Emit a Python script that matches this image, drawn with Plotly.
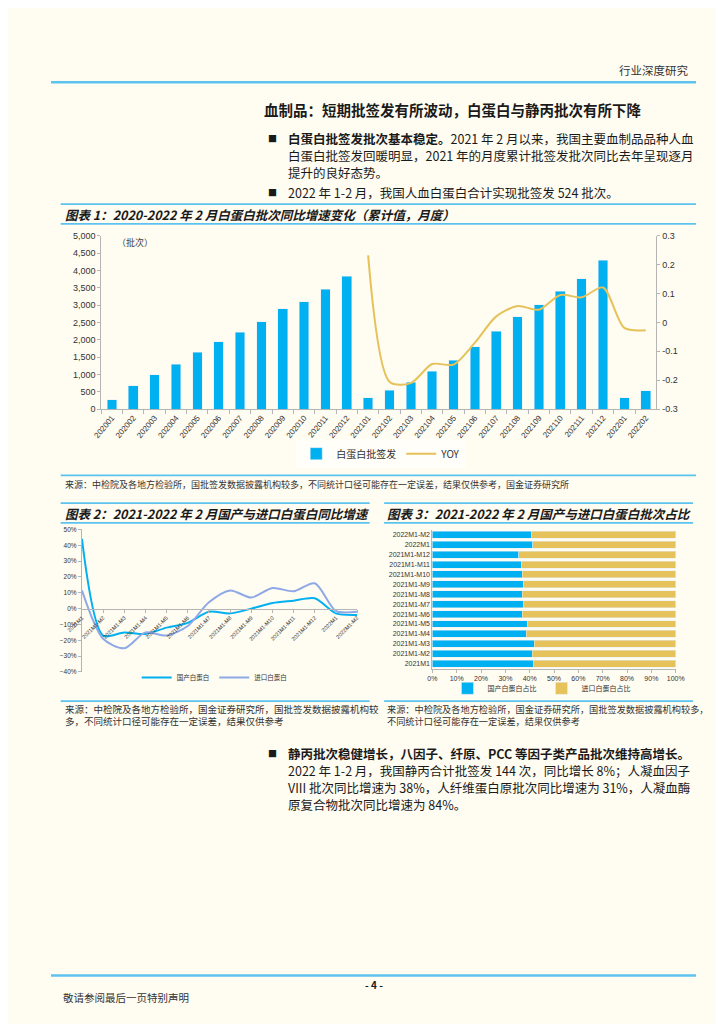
import plotly.graph_objects as go

W, H = 724, 1024
def px(x): return x / W
def py(y): return 1 - y / H

# ---------------- data ----------------
months1 = ['202001', '202002', '202003', '202004', '202005', '202006', '202007', '202008',
           '202009', '202010', '202011', '202012', '202101', '202102', '202103', '202104',
           '202105', '202106', '202107', '202108', '202109', '202110', '202111', '202112',
           '202201', '202202']
batches = [275, 674, 987, 1300, 1641, 1945, 2211, 2524, 2894, 3102, 3454, 3833,
           332, 550, 778, 1091, 1404, 1793, 2249, 2666, 3017, 3406, 3767, 4288, 332, 524]
yoy_months = ['202101', '202102', '202103', '202104', '202105', '202106', '202107',
              '202108', '202109', '202110', '202111', '202112', '202201', '202202']
yoy = [0.232, -0.205, -0.21, -0.144, -0.146, -0.07, 0.021, 0.057, 0.044, 0.095, 0.087,
       0.121, -0.019, -0.027]
y2_tickvals = [-0.3, -0.2, -0.1, 0, 0.1, 0.2, 0.3]
y2_ticktext = ['-0.3', '-0.2', '-0.1', '0', '0.1', '0.2', '0.3']

cats2 = ['2021M1', '2021M1-M2', '2021M1-M3', '2021M1-M4', '2021M1-M5', '2021M1-M6',
         '2021M1-M7', '2021M1-M8', '2021M1-M9', '2021M1-M10', '2021M1-M11', '2021M1-M12',
         '2022M1', '2022M1-M2']
dom_yoy = [44, -17, -15, -16, -12, -9, -2, -3, 0, 3.5, 5, 6.5, -3, -4]
imp_yoy = [11.5, -19, -25, -15, -17, -11, 4, 11.5, 7, 13, 11, 16, -1.5, -2]

dom_share = [41.7, 41.1, 41.9, 38.6, 39.0, 37.0, 37.6, 36.9, 37.4, 37.0, 36.6, 35.5, 41.3, 40.6]
imp_share = [58.3, 58.9, 58.1, 61.4, 61.0, 63.0, 62.4, 63.1, 62.6, 63.0, 63.4, 64.5, 58.7, 59.4]

# ---------------- style ----------------
BG = '#fffcf1'
BLUE = '#00b0f0'
GOLD = '#e5c25a'
LAV = '#8fa8e6'
RULE = '#5cc3ee'
AX = '#b5b5b5'
CJK = 'Noto Sans CJK SC'
LAT = 'Liberation Sans, Arial, sans-serif'

fig = go.Figure()

# chart 1
fig.add_trace(go.Bar(x=months1, y=batches, name='白蛋白批签发', marker_color=BLUE,
                     width=0.45, xaxis='x', yaxis='y', legend='legend'))
fig.add_trace(go.Scatter(x=yoy_months, y=yoy, name='YOY', mode='lines',
                         line=dict(color=GOLD, width=2, shape='spline', smoothing=0.8),
                         xaxis='x', yaxis='y2', legend='legend'))

# chart 2
fig.add_trace(go.Scatter(x=cats2, y=dom_yoy, name='国产白蛋白', mode='lines',
                         line=dict(color=BLUE, width=2, shape='spline', smoothing=0.8),
                         xaxis='x2', yaxis='y3', legend='legend2'))
fig.add_trace(go.Scatter(x=cats2, y=imp_yoy, name='进口白蛋白', mode='lines',
                         line=dict(color=LAV, width=2, shape='spline', smoothing=0.8),
                         xaxis='x2', yaxis='y3', legend='legend2'))

# chart 3
fig.add_trace(go.Bar(y=cats2, x=dom_share, name='国产白蛋白占比', orientation='h',
                     marker_color=BLUE, width=0.7, xaxis='x3', yaxis='y4', legend='legend3'))
fig.add_trace(go.Bar(y=cats2, x=imp_share, name='进口白蛋白占比', orientation='h',
                     marker_color=GOLD, width=0.7, xaxis='x3', yaxis='y4', legend='legend3'))

tick_font = dict(family=LAT, size=9, color='#333')

fig.update_layout(
    width=W, height=H, margin=dict(l=0, r=0, t=0, b=0),
    paper_bgcolor=BG, plot_bgcolor='rgba(0,0,0,0)',
    barmode='stack',
    font=dict(family=CJK, color='#222'),
    xaxis=dict(domain=[px(80), px(655)], anchor='y', type='category',
               tickangle=-50, tickfont=dict(family=LAT, size=8, color='#333'),
               showline=True, linecolor=AX, ticks='outside', ticklen=4, tickcolor=AX,
               tickson='boundaries', showgrid=False, zeroline=False),
    yaxis=dict(domain=[py(400), py(225)], anchor='x', range=[0, 5000], dtick=500,
               tickformat=',', tickfont=tick_font, showline=True, linecolor=AX,
               ticks='outside', ticklen=3, tickcolor=AX, showgrid=False, zeroline=False),
    yaxis2=dict(overlaying='y', side='right', anchor='x', range=[-0.3, 0.3],
                tickvals=y2_tickvals, ticktext=y2_ticktext, tickfont=tick_font,
                showline=True, linecolor=AX, ticks='outside', ticklen=3, tickcolor=AX,
                showgrid=False, zeroline=False),
    xaxis2=dict(domain=[px(60), px(345)], anchor='free', position=py(601.5), type='category',
                tickangle=-45, tickfont=dict(family=LAT, size=5.5, color='#333'),
                showline=True, linecolor=AX, ticks='outside', ticklen=3, tickcolor=AX,
                showgrid=False, zeroline=False),
    yaxis3=dict(domain=[py(665.5), py(521.5)], anchor='x2', range=[-40, 50], dtick=10,
                ticksuffix='%', tickfont=dict(family=LAT, size=6.5, color='#333'),
                showline=True, linecolor=AX, ticks='outside', ticklen=3, tickcolor=AX,
                showgrid=False, zeroline=False),
    xaxis3=dict(domain=[px(423), px(675)], anchor='y4', range=[0, 100], dtick=10,
                ticksuffix='%', tickfont=dict(family=LAT, size=7, color='#333'),
                showline=True, linecolor=AX, ticks='outside', ticklen=3, tickcolor=AX,
                showgrid=False, zeroline=False),
    yaxis4=dict(domain=[py(662), py(522)], anchor='x3', type='category',
                categoryorder='array', categoryarray=cats2,
                tickfont=dict(family=LAT, size=7, color='#333'),
                showline=True, linecolor=AX, ticks='', showgrid=False, zeroline=False),
    legend=dict(orientation='h', x=px(370), y=py(445), xanchor='center', yanchor='middle',
                font=dict(family=CJK, size=10, color='#333'), bgcolor='rgba(255,255,255,0.6)',
                traceorder='normal', itemwidth=30, tracegroupgap=0),
    legend2=dict(orientation='h', x=px(197), y=py(671), xanchor='center', yanchor='middle',
                 font=dict(family=CJK, size=6.5, color='#333'), bgcolor='rgba(0,0,0,0)',
                 traceorder='normal', itemwidth=30),
    legend3=dict(orientation='h', x=px(536), y=py(682), xanchor='center', yanchor='middle',
                 font=dict(family=CJK, size=7, color='#333'), bgcolor='rgba(0,0,0,0)',
                 traceorder='normal', itemwidth=30),
)

shapes = []
def hline(y, x0, x1, w=1.5):
    shapes.append(dict(type='line', xref='paper', yref='paper', x0=px(x0), x1=px(x1),
                       y0=py(y), y1=py(y), line=dict(color=RULE, width=w)))

hline(70, 28, 696, 2.5)
hline(193, 38, 696, 1.8)
hline(213, 38, 696, 1.8)
hline(467, 38, 696, 1.8)
hline(495, 38, 358, 1.8)
hline(515, 38, 358, 1.8)
hline(695, 38, 358, 1.8)
hline(495, 373, 693, 1.8)
hline(515, 373, 693, 1.8)
hline(695, 373, 693, 1.8)
hline(972, 28, 696, 2.5)
fig.update_layout(shapes=shapes)

ann = []
def text(x, y, s, size=12, xanchor='left', color='#1a1a1a', family=CJK):
    ann.append(dict(x=px(x), y=py(y), xref='paper', yref='paper', text=s, showarrow=False,
                    xanchor=xanchor, yanchor='middle', align='left',
                    font=dict(family=family, size=size, color=color)))

text(690, 58, '行业深度研究', size=11.5, xanchor='right', color='#333')
text(247, 97, '<b>血制品：短期批签发有所波动，白蛋白与静丙批次有所下降</b>', size=14.5)

text(251, 127, '■', size=9)
text(271, 127, '<b>白蛋白批签发批次基本稳定。</b>2021 年 2 月以来，我国主要血制品品种人血', size=12.5)
text(271, 144, '白蛋白批签发回暖明显，2021 年的月度累计批签发批次同比去年呈现逐月', size=12.5)
text(271, 161, '提升的良好态势。', size=12.5)
text(251, 181, '■', size=9)
text(271, 181, '2022 年 1-2 月，我国人血白蛋白合计实现批签发 524 批次。', size=12.5)

text(40, 203, '<b><i>图表 1：2020-2022 年 2 月白蛋白批次同比增速变化（累计值，月度）</i></b>', size=12.5)
text(94, 232, '（批次）', size=9, color='#444')
text(40, 476, '来源：中检院及各地方检验所，国批签发数据披露机构较多，不同统计口径可能存在一定误差，结果仅供参考，国金证券研究所',
     size=9, color='#333')

text(40, 505, '<b><i>图表 2：2021-2022 年 2 月国产与进口白蛋白同比增速</i></b>', size=12.5)
text(40, 703, '来源：中检院及各地方检验所，国金证券研究所，国批签发数据披露机构较', size=9.5, color='#333')
text(40, 715, '多，不同统计口径可能存在一定误差，结果仅供参考', size=9.5, color='#333')

text(374, 505, '<b><i>图表 3：2021-2022 年 2 月国产与进口白蛋白批次占比</i></b>', size=12.5)
text(374, 703, '来源：中检院及各地方检验所，国金证券研究所，国批签发数据披露机构较多，', size=9.2, color='#333')
text(374, 715, '不同统计口径可能存在一定误差，结果仅供参考', size=9.2, color='#333')

text(251, 748, '■', size=9)
text(271, 748, '<b>静丙批次稳健增长，八因子、纤原、PCC 等因子类产品批次维持高增长。</b>', size=12.5)
text(271, 765, '2022 年 1-2 月，我国静丙合计批签发 144 次，同比增长 8%；人凝血因子', size=12.5)
text(271, 782, 'VIII 批次同比增速为 38%，人纤维蛋白原批次同比增速为 31%，人凝血酶', size=12.5)
text(271, 799, '原复合物批次同比增速为 84%。', size=12.5)

text(362, 981, '<b>- 4 -</b>', size=10, xanchor='center')
text(38, 994, '敬请参阅最后一页特别声明', size=10.5, color='#333')

fig.update_layout(annotations=ann)

fig.write_html('out.html')
